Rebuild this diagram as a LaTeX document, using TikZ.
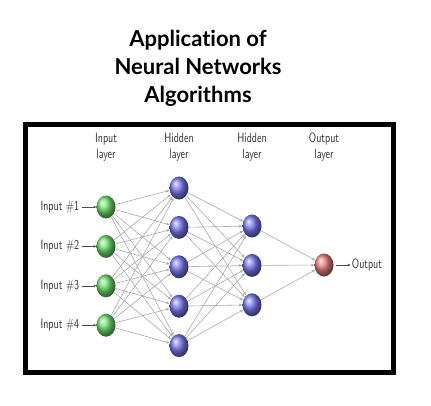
\documentclass[tikz,border=0pt]{standalone}
\usepackage{fontspec}
\newfontfamily\titlefont[Ligatures=NoCommon]{Lato}
\usepackage{tikz}
\usetikzlibrary{arrows.meta, shapes.geometric, positioning, calc}

\definecolor{neurongreen}{RGB}{110,225,110}
\definecolor{neuronblue}{RGB}{120,120,240}
\definecolor{neuronred}{RGB}{230,125,125}

\begin{document}
\begin{tikzpicture}[
                x=1pt, y=1pt,
                node distance=16pt,
                neuron/.style={ellipse, minimum width=19pt, minimum height=23pt, inner sep=0pt},
                inputn/.style={neuron, ball color=neurongreen},
                hiddenn/.style={neuron, ball color=neuronblue},
                outputn/.style={neuron, ball color=neuronred},
                lbl/.style={font=\sffamily, text=black!80, yscale=1.35, inner sep=1pt},
                layer/.style={lbl, align=center},
                link/.style={draw=gray!65, line width=0.6pt, -{Stealth[length=3.5pt, width=3pt]}},
                feed/.style={draw=black!70, line width=0.5pt, shorten <=2pt, -{Stealth[length=3pt, width=2.5pt]}}
            ]
                \useasboundingbox (0,0) rectangle (431,-405);

                % Title
                \node[font=\titlefont\bfseries\fontsize{22}{28}\selectfont, align=center] (title) at (198,-68)
                    {Application of\\Neural Networks\\Algorithms};

                % Frame
                \draw[line width=5pt, fill=white] (25.5,-124.5) rectangle (393,-372);

                % Layer names
                \node[layer] (Lin) at (106,-147) {Input\\layer};
                \node[layer] (Lh1) at (179,-147) {Hidden\\layer};
                \node[layer] (Lh2) at (252,-147) {Hidden\\layer};
                \node[layer] (Lout) at (324,-147) {Output\\layer};

                % Input layer
                \node[inputn] (I1) at (106,-207) {};
                \node[inputn, below=of I1] (I2) {};
                \node[inputn, below=of I2] (I3) {};
                \node[inputn, below=of I3] (I4) {};

                % First hidden layer
                \node[hiddenn] (H1) at (179,-188) {};
                \node[hiddenn, below=of H1] (H2) {};
                \node[hiddenn, below=of H2] (H3) {};
                \node[hiddenn, below=of H3] (H4) {};
                \node[hiddenn, below=of H4] (H5) {};

                % Second hidden layer
                \node[hiddenn] (G1) at (252,-226) {};
                \node[hiddenn, below=of G1] (G2) {};
                \node[hiddenn, below=of G2] (G3) {};

                % Output layer
                \node[outputn] (O) at (324,-265) {};

                % Connections
                \foreach \i in {1,...,4}
                    \foreach \j in {1,...,5}
                        \draw[link] (I\i) -- (H\j);
                \foreach \i in {1,...,5}
                    \foreach \j in {1,...,3}
                        \draw[link] (H\i) -- (G\j);
                \foreach \i in {1,...,3}
                    \draw[link] (G\i) -- (O);

                % Inputs and output
                \node[lbl, left=16pt of I1] (X1) {Input \#1};
                \node[lbl, left=16pt of I2] (X2) {Input \#2};
                \node[lbl, left=16pt of I3] (X3) {Input \#3};
                \node[lbl, left=16pt of I4] (X4) {Input \#4};
                \node[lbl, right=17pt of O] (Y) {Output};

                \path[feed]
                    (X1) edge (I1)
                    (X2) edge (I2)
                    (X3) edge (I3)
                    (X4) edge (I4)
                    (O) edge (Y);
            \end{tikzpicture}
\end{document}
